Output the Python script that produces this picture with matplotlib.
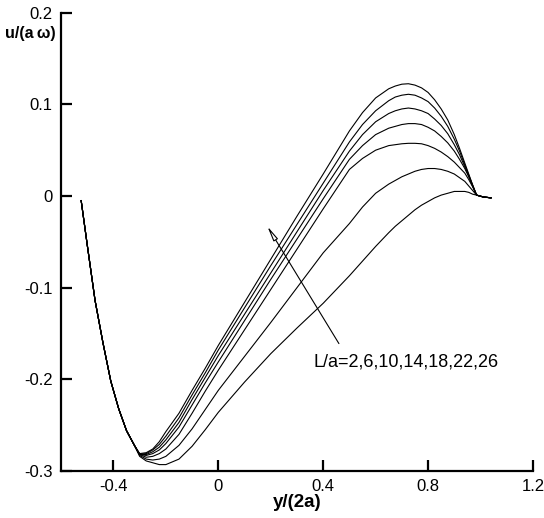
import matplotlib
matplotlib.use('Agg')
import matplotlib.pyplot as plt

plt.rcParams['font.family'] = ['Liberation Sans', 'DejaVu Sans']

# Ascissa comune y/(2a)
x = [-0.523, -0.50, -0.47, -0.44, -0.41, -0.38, -0.35, -0.32,
     -0.30, -0.275, -0.25, -0.225, -0.20, -0.15, -0.10, -0.05, 0.0,
     0.1, 0.2, 0.3, 0.4,
     0.5, 0.55, 0.6, 0.65, 0.675, 0.7, 0.725, 0.75, 0.775, 0.8,
     0.825, 0.85, 0.875, 0.9, 0.92, 0.94, 0.955, 0.97, 0.985,
     1.01, 1.04]

# Ramo sinistro comune (fino a -0.32)
left = [-0.005, -0.053, -0.114, -0.160, -0.202, -0.232, -0.256, -0.272]

# Curve u/(a w), dalla piu' alta (L/a=26) alla piu' bassa (L/a=2)
u_26 = left + [-0.281, -0.280, -0.276, -0.268, -0.257, -0.237, -0.212, -0.188, -0.163,
               -0.116, -0.069, -0.022, 0.024,
               0.071, 0.091, 0.107, 0.117, 0.120, 0.122, 0.1225, 0.121, 0.118, 0.113,
               0.105, 0.095, 0.083, 0.067, 0.052, 0.036, 0.024, 0.012, 0.001,
               -0.001, -0.002]
u_22 = left + [-0.2815, -0.281, -0.277, -0.271, -0.262, -0.242, -0.217, -0.193, -0.168,
               -0.122, -0.076, -0.031, 0.014,
               0.059, 0.078, 0.093, 0.104, 0.108, 0.110, 0.111, 0.110, 0.107, 0.103,
               0.096, 0.087, 0.076, 0.062, 0.049, 0.034, 0.023, 0.012, 0.001,
               -0.001, -0.002]
u_18 = left + [-0.282, -0.282, -0.279, -0.274, -0.266, -0.247, -0.222, -0.198, -0.174,
               -0.129, -0.084, -0.039, 0.006,
               0.049, 0.067, 0.081, 0.090, 0.093, 0.095, 0.096, 0.095, 0.093, 0.090,
               0.084, 0.077, 0.068, 0.056, 0.045, 0.032, 0.022, 0.011, 0.001,
               -0.001, -0.002]
u_14 = left + [-0.282, -0.283, -0.281, -0.277, -0.270, -0.252, -0.228, -0.204, -0.181,
               -0.136, -0.091, -0.047, -0.003,
               0.040, 0.055, 0.067, 0.074, 0.076, 0.078, 0.079, 0.079, 0.078, 0.075,
               0.071, 0.065, 0.058, 0.049, 0.040, 0.030, 0.021, 0.011, 0.001,
               -0.001, -0.002]
u_10 = left + [-0.282, -0.285, -0.284, -0.281, -0.276, -0.260, -0.237, -0.213, -0.190,
               -0.146, -0.102, -0.058, -0.014,
               0.029, 0.041, 0.050, 0.055, 0.056, 0.057, 0.0575, 0.0575, 0.057, 0.055,
               0.052, 0.048, 0.043, 0.037, 0.031, 0.025, 0.018, 0.010, 0.001,
               -0.001, -0.002]
u_6 = left + [-0.283, -0.287, -0.288, -0.287, -0.284, -0.272, -0.254, -0.233, -0.212,
              -0.175, -0.138, -0.100, -0.062,
              -0.030, -0.012, 0.003, 0.013, 0.017, 0.021, 0.024, 0.027, 0.029, 0.030,
              0.030, 0.029, 0.027, 0.024, 0.020, 0.016, 0.011, 0.006, 0.001,
              -0.001, -0.002]
u_2 = left + [-0.284, -0.289, -0.291, -0.293, -0.293, -0.287, -0.273, -0.255, -0.236,
              -0.203, -0.172, -0.144, -0.117,
              -0.087, -0.071, -0.055, -0.040, -0.033, -0.027, -0.021, -0.015, -0.010, -0.006,
              -0.002, 0.001, 0.003, 0.005, 0.005, 0.005, 0.004, 0.002, 0.001,
              -0.001, -0.002]

curves = [u_26, u_22, u_18, u_14, u_10, u_6, u_2]

x_ticks = [-0.4, 0.0, 0.4, 0.8, 1.2]
x_tick_labels = ['-0.4', '0', '0.4', '0.8', '1.2']
y_ticks = [-0.3, -0.2, -0.1, 0.0, 0.1, 0.2]
y_tick_labels = ['-0.3', '-0.2', '-0.1', '0', '0.1', '0.2']

label_text = 'L/a=2,6,10,14,18,22,26'

fig = plt.figure(figsize=(5.44, 5.18), dpi=100)
ax = fig.add_axes([0.1121, 0.0907, 0.8676, 0.8848])

for u in curves:
    ax.plot(x, u, color='k', linestyle='-', linewidth=0.8)

# Freccia ed etichetta
ax.annotate(
    '',
    xy=(0.187, -0.033),
    xytext=(0.46, -0.161),
    arrowprops=dict(arrowstyle='-|>,head_length=0.9,head_width=0.15',
                    edgecolor='k', facecolor='white', lw=0.8, shrinkA=0, shrinkB=0)
    )
ax.text(0.362, -0.181, label_text, fontsize=13, va='center', ha='left')

# Assi
ax.set_xlim(-0.6, 1.2)
ax.set_ylim(-0.3, 0.2)
ax.set_xticks(x_ticks)
ax.set_xticklabels(x_tick_labels)
ax.set_yticks(y_ticks)
ax.set_yticklabels(y_tick_labels)

ax.spines['top'].set_visible(False)
ax.spines['right'].set_visible(False)
ax.spines['left'].set_linewidth(1.6)
ax.spines['bottom'].set_linewidth(1.6)
ax.tick_params(direction='in', length=8, width=1.6, labelsize=12, pad=6)

ax.set_xlabel('y/(2a)', fontsize=13.5, fontweight='bold', labelpad=0)
ax.text(-0.012, 0.955, 'u/(a\u2009\u03c9)', transform=ax.transAxes, fontsize=11.5,
        fontweight='bold', ha='right', va='center')

fig.savefig('out.png', dpi=100)
